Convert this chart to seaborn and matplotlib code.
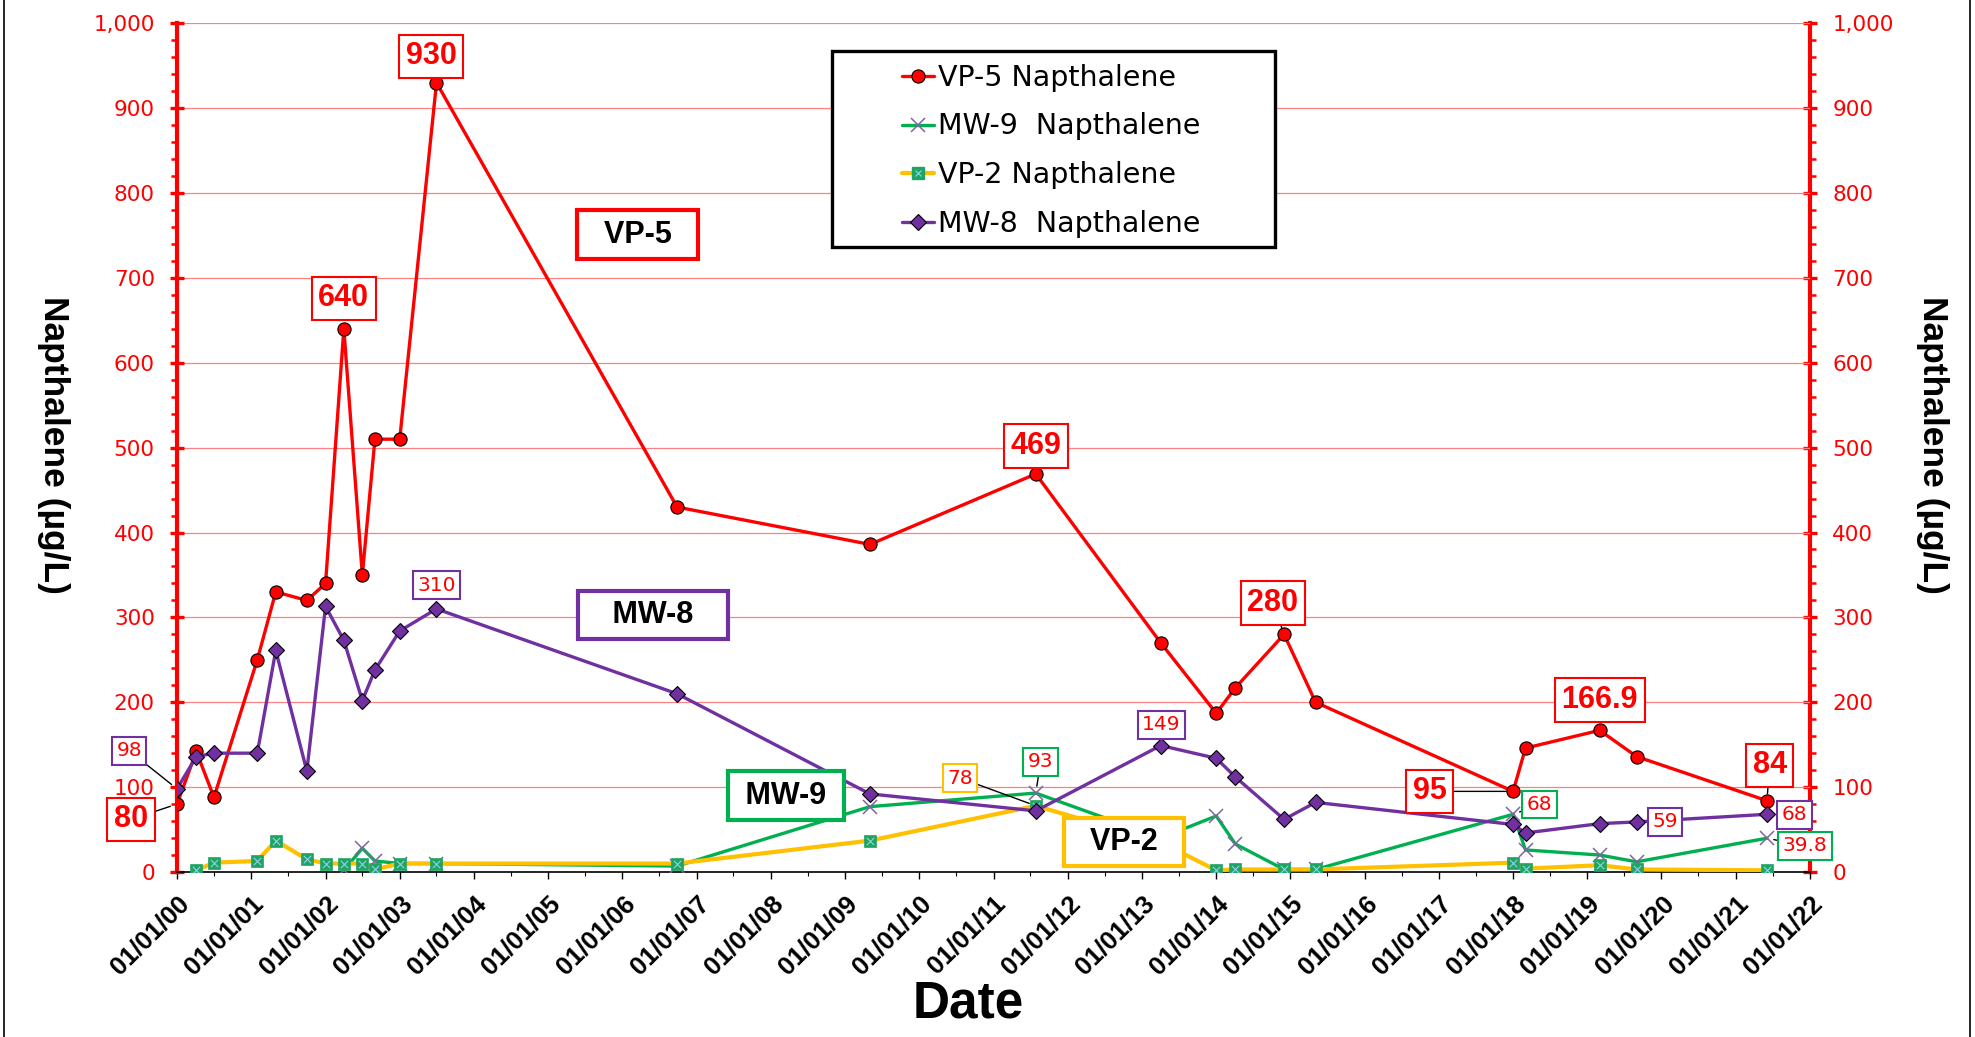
import pandas as pd
import numpy as np
import matplotlib
matplotlib.use('Agg')
import matplotlib.pyplot as plt
import matplotlib.dates as mdates
from matplotlib.lines import Line2D
from matplotlib.patches import Rectangle
from matplotlib.ticker import MultipleLocator, FuncFormatter
import seaborn as sns

# sampling dates (VP-5 and MW-8 were sampled on all of them)
dates = ['2000-01-01', '2000-04-05', '2000-07-01', '2001-01-30', '2001-05-01',
         '2001-10-01', '2002-01-01', '2002-04-01', '2002-07-01', '2002-09-01',
         '2003-01-01', '2003-07-01', '2006-09-27', '2009-05-03', '2011-07-28',
         '2013-04-03', '2014-01-01', '2014-04-05', '2014-12-01', '2015-05-05',
         '2018-01-01', '2018-03-03', '2019-03-03', '2019-09-01', '2021-06-03']
vp5 = [80, 142, 88, 250, 330, 320, 340, 640, 350, 510, 510, 930, 430, 386, 469,
       270, 187, 217, 280, 200, 95, 146, 166.9, 136, 84]
mw8 = [98, 136, 140, 140, 261, 119, 313, 273, 202, 238, 284, 310, 210, 92, 72,
       149, 134, 112, 62, 82, 56, 46, 57, 59, 68]
vp2_dates = dates[1:]
vp2 = [2, 11, 13, 37, 15, 10, 10, 10, 3, 10, 10, 10, 37, 78, 35, 2, 3, 3, 3,
       11, 4, 8, 3, 2]
mw9_dates = dates[7:]
mw9 = [2, 28, 13, 10, 10, 7, 77, 93, 40, 66, 33, 3, 3, 68, 26, 20, 12, 39.8]

RED = '#FF0000'
PURPLE = '#7030A0'
GREEN = '#00B050'
GOLD = '#FFC000'
SQ = '#1FA463'

sns.set_style('white')
plt.rcParams['font.family'] = ['DejaVu Sans']
plt.rcParams['text.color'] = 'black'
plt.rcParams['axes.labelcolor'] = 'black'

W, H = 1975, 1037
fig = plt.figure(figsize=(W / 100, H / 100), dpi=100)
ax = fig.add_axes([177 / W, 1 - 872 / H, (1810 - 177) / W, (872 - 23.3) / H])


def frame(d, v):
    return pd.DataFrame({'Date': pd.to_datetime(d), 'ug': v})


sns.lineplot(data=frame(dates, vp5), x='Date', y='ug', ax=ax, color=RED, lw=2.4,
             marker='o', markersize=9.5, markerfacecolor=RED,
             markeredgecolor='black', markeredgewidth=0.8, zorder=4, legend=False)
sns.lineplot(data=frame(mw9_dates, mw9), x='Date', y='ug', ax=ax, color=GREEN, lw=2.4,
             marker='x', markersize=10, markeredgecolor='#8064A2',
             markeredgewidth=1.1, zorder=5, legend=False)
sns.lineplot(data=frame(vp2_dates, vp2), x='Date', y='ug', ax=ax, color=GOLD, lw=3,
             marker='s', markersize=8.5, markerfacecolor=SQ, markeredgecolor=SQ,
             markeredgewidth=0.5, zorder=6, legend=False)
sns.scatterplot(data=frame(vp2_dates, vp2), x='Date', y='ug', ax=ax, marker='x',
                color='#8FD3E8', s=28, linewidth=0.8, zorder=6.5, legend=False)
sns.lineplot(data=frame(dates, mw8), x='Date', y='ug', ax=ax, color=PURPLE, lw=2.4,
             marker='D', markersize=8.5, markerfacecolor=PURPLE,
             markeredgecolor='black', markeredgewidth=0.8, zorder=7, legend=False)

ax.set_xlim(mdates.date2num(pd.Timestamp('2000-01-01')), mdates.date2num(pd.Timestamp('2022-01-01')))
ax.set_ylim(0, 1000)
ax.set_xlabel('')
ax.set_ylabel('')
ax.grid(axis='y', color='#FF8080', lw=0.9)
ax.grid(axis='x', visible=False)
ax.set_axisbelow(True)

ax.spines['top'].set_visible(False)
ax.spines['left'].set_color(RED)
ax.spines['left'].set_linewidth(3)
ax.spines['right'].set_visible(False)
ax.spines['bottom'].set_color('black')
ax.spines['bottom'].set_linewidth(1.2)

ax.xaxis.set_major_locator(mdates.YearLocator(1))
ax.xaxis.set_minor_locator(mdates.MonthLocator(bymonth=7))
ax.xaxis.set_major_formatter(mdates.DateFormatter('%m/%d/%y'))
ax.tick_params(axis='x', which='major', direction='out', length=5, width=1, color='black',
               labelcolor='black', pad=9, labelsize=18.5, bottom=True)
ax.tick_params(axis='x', which='minor', direction='out', length=3, width=0.8, color='black',
               bottom=True)
for lab in ax.get_xticklabels():
    lab.set_rotation(45)
    lab.set_ha('right')
    lab.set_va('top')
    lab.set_rotation_mode('anchor')
    lab.set_fontfamily('Liberation Sans')
    lab.set_fontweight('bold')

fmt = FuncFormatter(lambda v, p: f'{v:,.0f}')
ax2 = ax.twinx()
ax2.set_ylim(0, 1000)
for a in (ax, ax2):
    a.yaxis.set_major_locator(MultipleLocator(100))
    a.yaxis.set_minor_locator(MultipleLocator(20))
    a.yaxis.set_major_formatter(fmt)
    a.tick_params(axis='y', which='major', direction='inout', length=10, width=2.4,
                  color=RED, labelcolor=RED, labelsize=15.5, pad=11)
    a.tick_params(axis='y', which='minor', direction='out', length=4, width=1.8, color=RED)
ax2.grid(False)
for s in ['top', 'left', 'bottom']:
    ax2.spines[s].set_visible(False)
ax2.spines['right'].set_color(RED)
ax2.spines['right'].set_linewidth(3)
ax2.set_zorder(-1)
ax.set_zorder(1)
ax.patch.set_visible(False)

bigfont = dict(fontfamily='Liberation Sans', fontweight='bold', fontsize=22)
smallfont = dict(fontfamily='DejaVu Sans', fontweight='normal', fontsize=14.5)


def tag(sd, sv, i, dx, dy, edge, font, leader=False, lw=1.5):
    v = sv[i]
    arrow = dict(arrowstyle='-', color='black', lw=1, shrinkA=0, shrinkB=5) if leader else None
    ax.annotate(f'{v:g}', xy=(mdates.date2num(pd.Timestamp(sd[i])), v), xytext=(dx, dy),
                textcoords='offset points', ha='center', va='center', color=RED,
                bbox=dict(boxstyle='square,pad=0.22', fc='white', ec=edge, lw=lw),
                arrowprops=arrow, annotation_clip=False, zorder=9, **font)


# value call-outs
tag(dates, vp5, 0, -33, -11, RED, bigfont, True)
tag(dates, vp5, 7, 0, 22, RED, bigfont)
tag(dates, vp5, 11, -4, 19, RED, bigfont)
tag(dates, vp5, 14, 0, 20, RED, bigfont)
tag(dates, vp5, 18, -8, 22.5, RED, bigfont, True)
tag(dates, vp5, 20, -60, 0, RED, bigfont, True)
tag(dates, vp5, 22, 0, 22, RED, bigfont)
tag(dates, vp5, 24, 2, 25.5, RED, bigfont, True)
tag(dates, mw8, 0, -34.5, 27.5, PURPLE, smallfont, True)
tag(dates, mw8, 11, 0, 17, PURPLE, smallfont)
tag(dates, mw8, 15, 0.5, 15, PURPLE, smallfont)
tag(dates, mw8, 23, 20.5, 0, PURPLE, smallfont)
tag(dates, mw8, 24, 20, -0.5, PURPLE, smallfont)
tag(mw9_dates, mw9, 7, 3.5, 22.5, GREEN, smallfont, True)
tag(mw9_dates, mw9, 13, 19, 7, GREEN, smallfont, True)
tag(mw9_dates, mw9, 17, 27.5, -5.5, GREEN, smallfont, True)
tag(vp2_dates, vp2, 13, -54.5, 20, GOLD, smallfont, True)

# series name boxes
for txt, x, y, edge in [('  VP-5  ', 0.282, 0.751, RED), ('   MW-8   ', 0.2915, 0.303, PURPLE),
                        (' MW-9 ', 0.373, 0.090, GREEN), ('  VP-2  ', 0.580, 0.035, GOLD)]:
    ax.text(x, y, txt, transform=ax.transAxes, ha='center', va='center', color='black',
            fontfamily='Liberation Sans', fontweight='bold', fontsize=22, zorder=9,
            bbox=dict(boxstyle='square,pad=0.3', fc='white', ec=edge, lw=3))

# legend
handles = [
    Line2D([], [], color=RED, lw=2.4, marker='o', markersize=9.5, mfc=RED, mec='black', mew=0.8),
    Line2D([], [], color=GREEN, lw=2.4, marker='x', markersize=10, mec='#8064A2', mew=1.1),
    (Line2D([], [], color=GOLD, lw=3, marker='s', markersize=8.5, mfc=SQ, mec=SQ),
     Line2D([], [], ls='none', marker='x', markersize=5, mec='#8FD3E8', mew=0.8)),
    Line2D([], [], color=PURPLE, lw=2.4, marker='D', markersize=8.5, mfc=PURPLE, mec='black', mew=0.8),
]
labels = ['VP-5 Napthalene', 'MW-9  Napthalene', 'VP-2 Napthalene', 'MW-8  Napthalene']
box = Rectangle((831.7 / W, 1 - 246.7 / H), (1275 - 831.7) / W, (246.7 - 50.7) / H,
                transform=fig.transFigure, fc='white', ec='black', lw=2.4, zorder=10,
                clip_on=False)
ax.add_patch(box)
leg = ax.legend(handles, labels, loc='upper left', bbox_to_anchor=(902 / W, 1 - 64 / H),
                bbox_transform=fig.transFigure, frameon=False, fontsize=20.5, borderpad=0,
                borderaxespad=0, handlelength=1.12, handletextpad=0.15, labelspacing=0.72)
leg.set_zorder(11)

fig.text(968 / W, 1 - 1018 / H, 'Date', ha='center', va='baseline', fontsize=37,
         fontweight='bold', fontfamily='Liberation Sans', color='black')
for x in (53, 1932):
    fig.text(x / W, 1 - 444.5 / H, 'Napthalene (µg/L)', rotation=-90, ha='center',
             va='center', fontsize=25.5, fontweight='bold', fontfamily='Liberation Sans',
             color='black')

for x in (4, 1970):
    fig.add_artist(Line2D([x / W, x / W], [0, 1], transform=fig.transFigure, color='black', lw=1.2))

fig.savefig('out.png', dpi=100)
